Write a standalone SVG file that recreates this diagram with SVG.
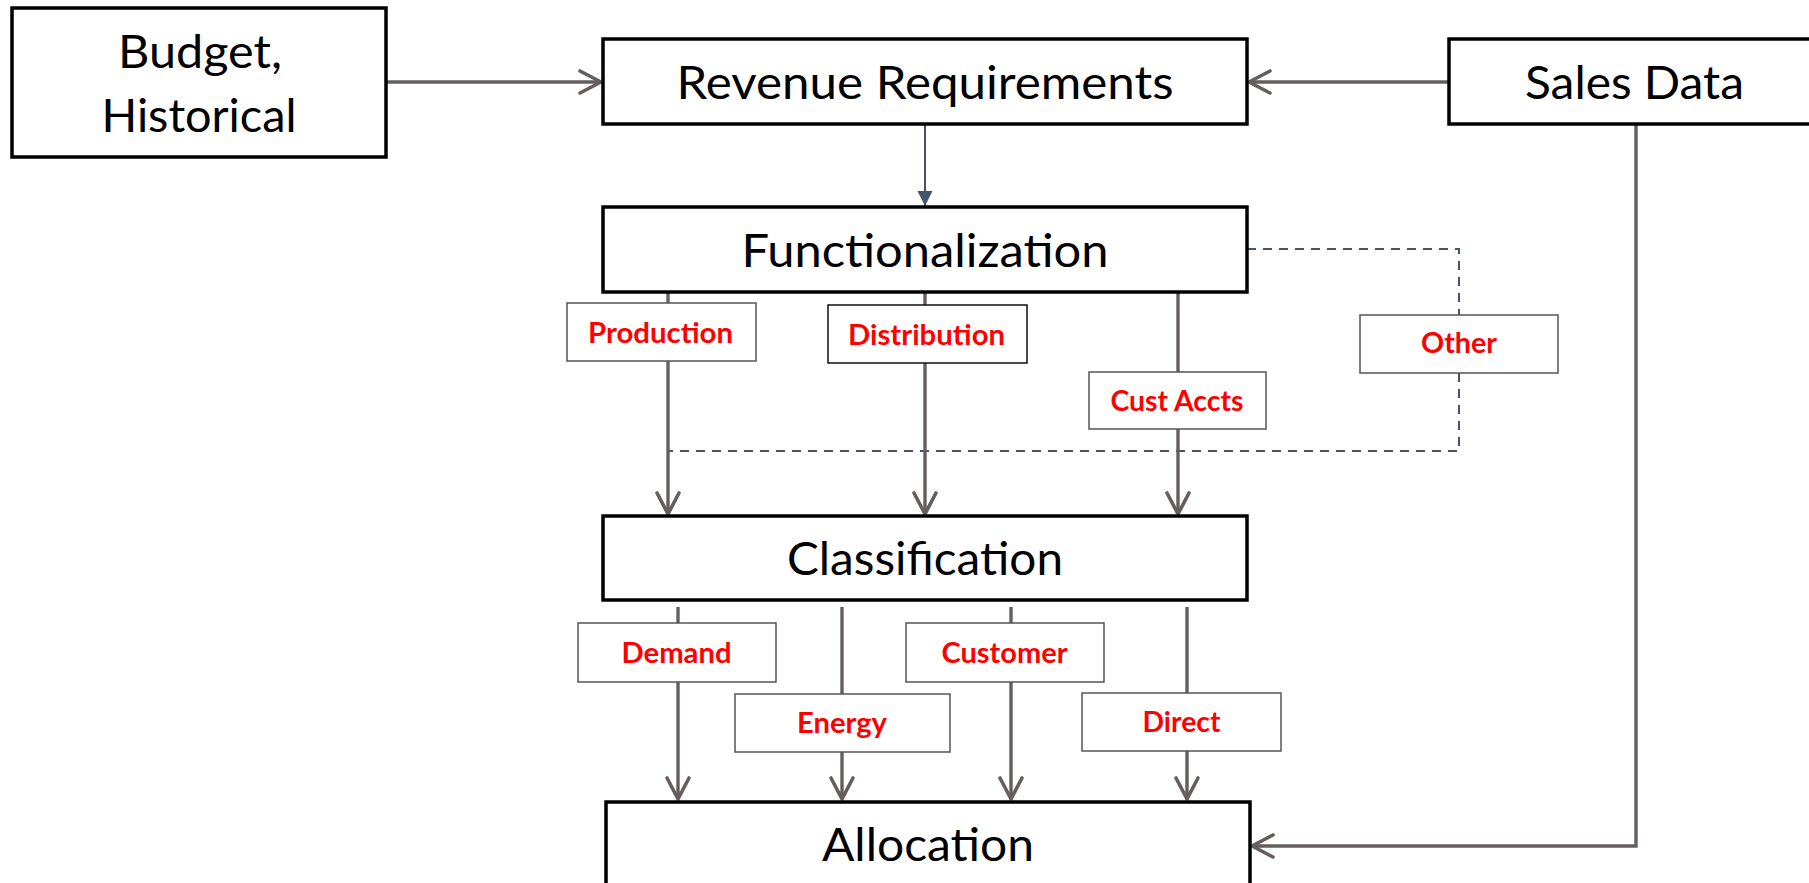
<svg xmlns="http://www.w3.org/2000/svg" width="1809" height="883" viewBox="0 0 1809 883">
  <style>
    .node { fill: #ffffff; stroke: #000000; stroke-width: 3.5; }
    .tag { fill: #ffffff; stroke: #555555; stroke-width: 1.5; }
    .main { font-family: Lato, "Liberation Sans", sans-serif; font-size: 46px; fill: #000000; text-anchor: middle; }
    .lbl { font-family: Lato, "Liberation Sans", sans-serif; font-size: 29px; font-weight: bold; fill: #ff0000; text-anchor: middle; }
    .flow { fill: none; stroke: #665e5e; stroke-width: 3.4; }
    .dash { fill: none; stroke: #44546a; stroke-width: 2; stroke-dasharray: 9 7; }
    .feed { fill: none; stroke: #44546a; stroke-width: 2; }
  </style>
  <defs>
    <marker id="open" markerUnits="userSpaceOnUse" markerWidth="30" markerHeight="30" viewBox="-24 -15 30 30" refX="0" refY="0" orient="auto">
      <path d="M -21 -11 L 0 0 L -21 11" fill="none" stroke="#665e5e" stroke-width="3.6" stroke-linecap="round" stroke-linejoin="round"/>
    </marker>
    <marker id="solid" markerUnits="userSpaceOnUse" markerWidth="20" markerHeight="20" viewBox="-16 -10 20 20" refX="0" refY="0" orient="auto">
      <path d="M -15 -7.5 L 0 0 L -15 7.5 Z" fill="#44546a"/>
    </marker>
  </defs>

  <rect width="1809" height="883" fill="#ffffff"/>

  <!-- connectors -->
  <g id="connectors">
    <path class="flow" d="M386 82 H601" marker-end="url(#open)"/>
    <path class="flow" d="M1449 82 H1249" marker-end="url(#open)"/>
    <path class="feed" d="M925 124 V206" marker-end="url(#solid)"/>
    <path class="dash" d="M1247 249 H1459 V451 H669"/>
    <path class="flow" d="M668 292 V514" marker-end="url(#open)"/>
    <path class="flow" d="M925 292 V514" marker-end="url(#open)"/>
    <path class="flow" d="M1178 292 V514" marker-end="url(#open)"/>
    <path class="flow" d="M678 607 V799" marker-end="url(#open)"/>
    <path class="flow" d="M842 607 V799" marker-end="url(#open)"/>
    <path class="flow" d="M1011 607 V799" marker-end="url(#open)"/>
    <path class="flow" d="M1187 607 V799" marker-end="url(#open)"/>
    <path class="flow" d="M1636 124 V846 H1252" marker-end="url(#open)"/>
  </g>

  <!-- main process boxes -->
  <g id="budget">
    <rect class="node" x="12" y="8" width="374" height="149"/>
    <text class="main" x="200" y="68" textLength="164" lengthAdjust="spacingAndGlyphs">Budget,</text>
    <text class="main" x="199" y="132" textLength="195" lengthAdjust="spacingAndGlyphs">Historical</text>
  </g>
  <g id="revenue">
    <rect class="node" x="603" y="39" width="644" height="85"/>
    <text class="main" x="925" y="99" textLength="497" lengthAdjust="spacingAndGlyphs">Revenue Requirements</text>
  </g>
  <g id="sales">
    <rect class="node" x="1449" y="39" width="380" height="85"/>
    <text class="main" x="1634.5" y="99" textLength="219" lengthAdjust="spacingAndGlyphs">Sales Data</text>
  </g>
  <g id="functionalization">
    <rect class="node" x="603" y="207" width="644" height="85"/>
    <text class="main" x="925" y="267" textLength="367" lengthAdjust="spacingAndGlyphs">Functionalization</text>
  </g>
  <g id="classification">
    <rect class="node" x="603" y="516" width="644" height="84"/>
    <text class="main" x="925" y="575" textLength="276" lengthAdjust="spacingAndGlyphs">Classification</text>
  </g>
  <g id="allocation">
    <rect class="node" x="606" y="802" width="644" height="110"/>
    <text class="main" x="928" y="861" textLength="212" lengthAdjust="spacingAndGlyphs">Allocation</text>
  </g>

  <!-- function labels -->
  <g id="production">
    <rect class="tag" x="567" y="303" width="189" height="58"/>
    <text class="lbl" x="660.5" y="343" textLength="145" lengthAdjust="spacingAndGlyphs">Production</text>
  </g>
  <g id="distribution">
    <rect class="tag" x="828" y="305" width="199" height="58" style="stroke:#111111"/>
    <text class="lbl" x="926.5" y="345" textLength="157" lengthAdjust="spacingAndGlyphs">Distribution</text>
  </g>
  <g id="cust-accts">
    <rect class="tag" x="1089" y="372" width="177" height="57"/>
    <text class="lbl" x="1177" y="411" textLength="133" lengthAdjust="spacingAndGlyphs">Cust Accts</text>
  </g>
  <g id="other">
    <rect class="tag" x="1360" y="315" width="198" height="58"/>
    <text class="lbl" x="1459" y="353" textLength="76" lengthAdjust="spacingAndGlyphs">Other</text>
  </g>

  <!-- classification labels -->
  <g id="demand">
    <rect class="tag" x="578" y="623" width="198" height="59"/>
    <text class="lbl" x="676.5" y="663" textLength="110" lengthAdjust="spacingAndGlyphs">Demand</text>
  </g>
  <g id="energy">
    <rect class="tag" x="735" y="694" width="215" height="58"/>
    <text class="lbl" x="842" y="733" textLength="90" lengthAdjust="spacingAndGlyphs">Energy</text>
  </g>
  <g id="customer">
    <rect class="tag" x="906" y="623" width="198" height="59"/>
    <text class="lbl" x="1004.5" y="663" textLength="126" lengthAdjust="spacingAndGlyphs">Customer</text>
  </g>
  <g id="direct">
    <rect class="tag" x="1082" y="693" width="199" height="58"/>
    <text class="lbl" x="1181.5" y="732" textLength="78" lengthAdjust="spacingAndGlyphs">Direct</text>
  </g>
</svg>
